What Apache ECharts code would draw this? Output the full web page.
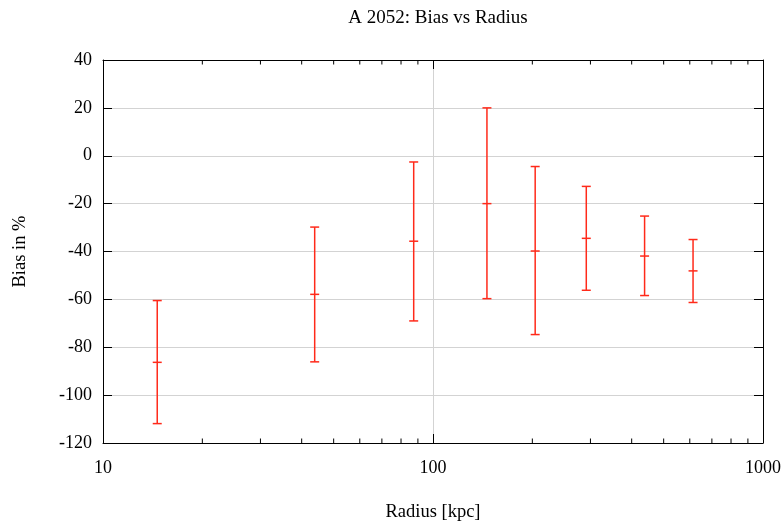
<!DOCTYPE html>
<html>
<head>
<meta charset="utf-8">
<script src="https://cdn.jsdelivr.net/npm/echarts@6/dist/echarts.min.js"></script>
<style>
  html, body { margin: 0; padding: 0; background: #fff; }
  #chart { width: 783px; height: 522px; }
</style>
</head>
<body>
<div id="chart"></div>
<script>
// Radial bins (kpc) and bias in percent with lower/upper error limits
const radius = [14.6, 43.8, 87.4, 145.7, 204, 291.4, 437.7, 613.8];
const bias   = [-86.3, -57.9, -35.7, -20, -39.8, -34.5, -41.9, -48.1];
const biasLo = [-111.9, -86.1, -69, -59.7, -74.7, -56.2, -58.4, -61.3];
const biasHi = [-60.5, -29.8, -2.6, 20, -4.5, -12.8, -25.2, -35];

// Log-axis minor tick positions (2..9 per decade)
const minorTicks = [20, 30, 40, 50, 60, 70, 80, 90, 200, 300, 400, 500, 600, 700, 800, 900];

const FONT = 'Liberation Serif';
const RED = '#ff2a1a';

const errData = radius.map((r, i) => [r, bias[i], biasLo[i], biasHi[i]]);
const minorData = minorTicks.map(v => [v, -120]);

const chart = echarts.init(document.getElementById('chart'), null, { renderer: 'canvas' });

const axisCommon = {
  axisLine: { show: true, onZero: false, lineStyle: { color: '#000', width: 1 } },
  axisTick: { show: true, inside: true, length: 9, lineStyle: { color: '#000', width: 1 } },
  axisLabel: { color: '#000', fontFamily: FONT, fontSize: 18 }
};

chart.setOption({
  animation: false,
  backgroundColor: '#fff',
  title: {
    text: 'A 2052: Bias vs Radius',
    left: 433,
    textAlign: 'center',
    top: 4,
    textStyle: { fontFamily: FONT, fontSize: 19, fontWeight: 'normal', color: '#000' }
  },
  grid: { left: 103, right: 20, top: 60, bottom: 79, outerBoundsMode: 'none', containLabel: false },
  xAxis: [
    Object.assign({}, axisCommon, {
      type: 'log', logBase: 10, min: 10, max: 1000,
      name: 'Radius [kpc]', nameLocation: 'middle', nameGap: 60,
      nameTextStyle: { fontFamily: FONT, fontSize: 18.5, color: '#000' },
      axisLabel: {
        color: '#000', fontFamily: FONT, fontSize: 18, margin: 16,
        formatter: v => String(Math.round(v))
      },
      splitLine: { show: true, lineStyle: { color: '#d3d3d3', width: 1 } }
    }),
    Object.assign({}, axisCommon, {
      type: 'log', logBase: 10, min: 10, max: 1000, position: 'top',
      axisLabel: { show: false },
      splitLine: { show: false }
    })
  ],
  yAxis: [
    Object.assign({}, axisCommon, {
      type: 'value', min: -120, max: 40, interval: 20,
      name: 'Bias in %', nameLocation: 'middle', nameGap: 73, nameRotate: 90,
      nameTextStyle: { fontFamily: FONT, fontSize: 18.5, color: '#000' },
      axisLabel: { color: '#000', fontFamily: FONT, fontSize: 18, margin: 11 },
      splitLine: { show: true, lineStyle: { color: '#d3d3d3', width: 1 } }
    }),
    Object.assign({}, axisCommon, {
      type: 'value', min: -120, max: 40, interval: 20, position: 'right',
      axisLabel: { show: false },
      splitLine: { show: false }
    })
  ],
  series: [
    {
      // minor ticks on the bottom and top frame edges
      type: 'custom',
      xAxisIndex: 0, yAxisIndex: 0,
      silent: true,
      data: minorData,
      encode: { x: 0, y: 1 },
      renderItem: function (params, api) {
        const cs = params.coordSys;
        const px = api.coord([api.value(0), api.value(1)])[0];
        const bottom = cs.y + cs.height;
        const top = cs.y;
        const style = { stroke: '#000', lineWidth: 1 };
        return {
          type: 'group',
          children: [
            { type: 'line', shape: { x1: px, y1: bottom, x2: px, y2: bottom - 4.5 }, style: style },
            { type: 'line', shape: { x1: px, y1: top, x2: px, y2: top + 4.5 }, style: style }
          ]
        };
      },
      z: 3
    },
    {
      // error bars with centre marks
      type: 'custom',
      xAxisIndex: 0, yAxisIndex: 0,
      data: errData,
      encode: { x: 0, y: [1, 2, 3] },
      renderItem: function (params, api) {
        const x = api.value(0);
        const c = api.coord([x, api.value(1)]);
        const lo = api.coord([x, api.value(2)]);
        const hi = api.coord([x, api.value(3)]);
        const hw = 4.5;
        const style = { stroke: RED, lineWidth: 1.5, fill: null };
        return {
          type: 'group',
          children: [
            { type: 'line', shape: { x1: c[0], y1: lo[1], x2: c[0], y2: hi[1] }, style: style },
            { type: 'line', shape: { x1: c[0] - hw, y1: lo[1], x2: c[0] + hw, y2: lo[1] }, style: style },
            { type: 'line', shape: { x1: c[0] - hw, y1: hi[1], x2: c[0] + hw, y2: hi[1] }, style: style },
            { type: 'line', shape: { x1: c[0] - hw, y1: c[1], x2: c[0] + hw, y2: c[1] }, style: style }
          ]
        };
      },
      z: 4
    }
  ]
});
</script>
</body>
</html>
